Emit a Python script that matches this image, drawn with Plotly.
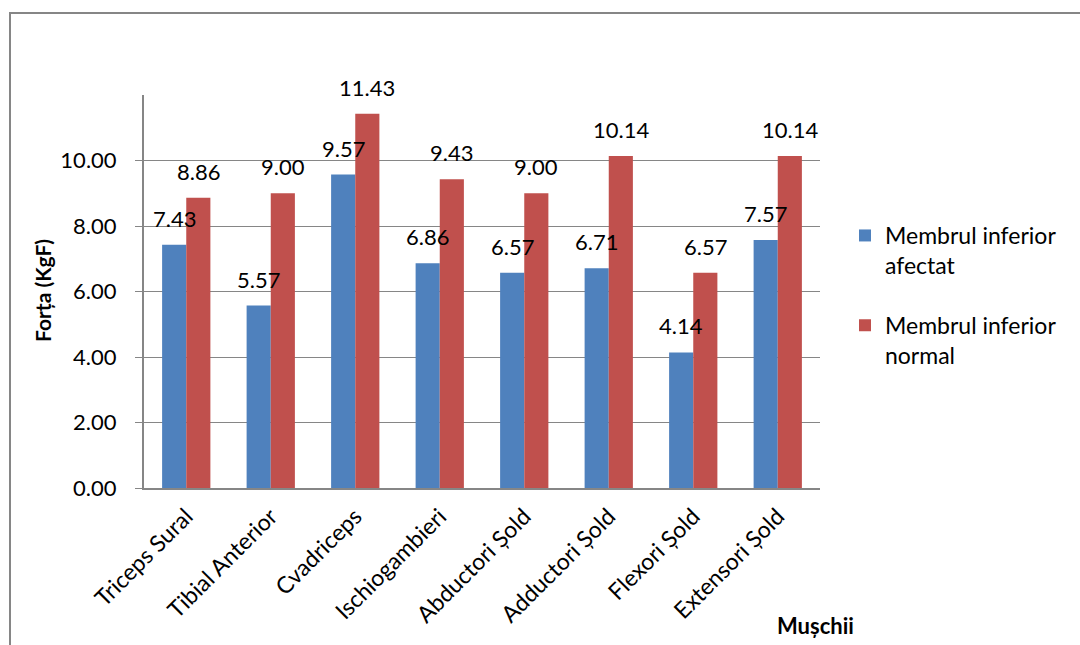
import plotly.graph_objects as go

categories = ["Triceps Sural", "Tibial Anterior", "Cvadriceps", "Ischiogambieri",
              "Abductori Șold", "Adductori Șold", "Flexori Șold", "Extensori Șold"]
afectat = [7.43, 5.57, 9.57, 6.86, 6.57, 6.71, 4.14, 7.57]
normal = [8.86, 9.00, 11.43, 9.43, 9.00, 10.14, 6.57, 10.14]
series_names = ["Membrul inferior<br>afectat", "Membrul inferior<br>normal"]
y_ticks = [0, 2, 4, 6, 8, 10]

FONT = "Lato"
BLUE = "#4F81BD"
RED = "#C0504D"
GRAY = "#868686"

W, H = 1080, 645
ML, MR, MT, MB = 144, 260, 95, 157
PW, PH = W - ML - MR, H - MT - MB


def px_x(px):
    return (px - ML) / PW


def px_y(py):
    return (H - MB - py) / PH


fig = go.Figure()
fig.add_trace(go.Bar(x=categories, y=afectat, name=series_names[0],
                     marker=dict(color=BLUE, line=dict(width=0)), legendgroup="a"))
fig.add_trace(go.Bar(x=categories, y=normal, name=series_names[1],
                     marker=dict(color=RED, line=dict(width=0)), legendgroup="b"))

annotations = []
for vals, shift in ((afectat, -12), (normal, 12)):
    for c, v in zip(categories, vals):
        annotations.append(dict(x=c, y=v, xref="x", yref="y", text=f"{v:.2f}",
                                showarrow=False, xshift=shift, yshift=11,
                                yanchor="bottom", xanchor="center",
                                font=dict(family=FONT, size=22, color="black")))

annotations.append(dict(x=px_x(42), y=px_y(291), xref="paper", yref="paper",
                        text="<b>Forța (KgF)</b>", textangle=-90, showarrow=False,
                        xanchor="center", yanchor="middle",
                        font=dict(family=FONT, size=21, color="black")))
annotations.append(dict(x=px_x(815), y=px_y(625), xref="paper", yref="paper",
                        text="<b>Mușchii</b>", showarrow=False,
                        xanchor="center", yanchor="middle",
                        font=dict(family=FONT, size=22, color="black")))

fig.update_layout(
    width=W, height=H,
    margin=dict(l=ML, r=MR, t=MT, b=MB, autoexpand=False),
    paper_bgcolor="white", plot_bgcolor="white",
    barmode="group", bargap=0.4286, bargroupgap=0,
    font=dict(family=FONT, size=22, color="black"),
    annotations=annotations,
    showlegend=True,
    legend=dict(x=px_x(845), y=px_y(214), xanchor="left", yanchor="top",
                valign="top", tracegroupgap=27,
                font=dict(family=FONT, size=23, color="black"),
                bgcolor="rgba(0,0,0,0)"),
    shapes=[dict(type="rect", xref="paper", yref="paper",
                 x0=px_x(10), x1=px_x(1090), y0=px_y(660), y1=px_y(13),
                 line=dict(color=GRAY, width=2), fillcolor="rgba(0,0,0,0)",
                 layer="below")],
)

fig.update_xaxes(showline=True, linecolor=GRAY, linewidth=2, showgrid=False,
                 tickangle=-45, ticks="", tickfont=dict(family=FONT, size=23),
                 ticklabelstandoff=4, automargin=False)
fig.update_yaxes(range=[0, 12], tickvals=y_ticks, tickformat=".2f",
                 showline=True, linecolor=GRAY, linewidth=2,
                 showgrid=True, gridcolor=GRAY, gridwidth=1,
                 ticks="outside", ticklen=7, tickcolor=GRAY, tickwidth=1,
                 ticklabelstandoff=14, zeroline=False,
                 tickfont=dict(family=FONT, size=22), automargin=False)

fig.write_html("out.html")
